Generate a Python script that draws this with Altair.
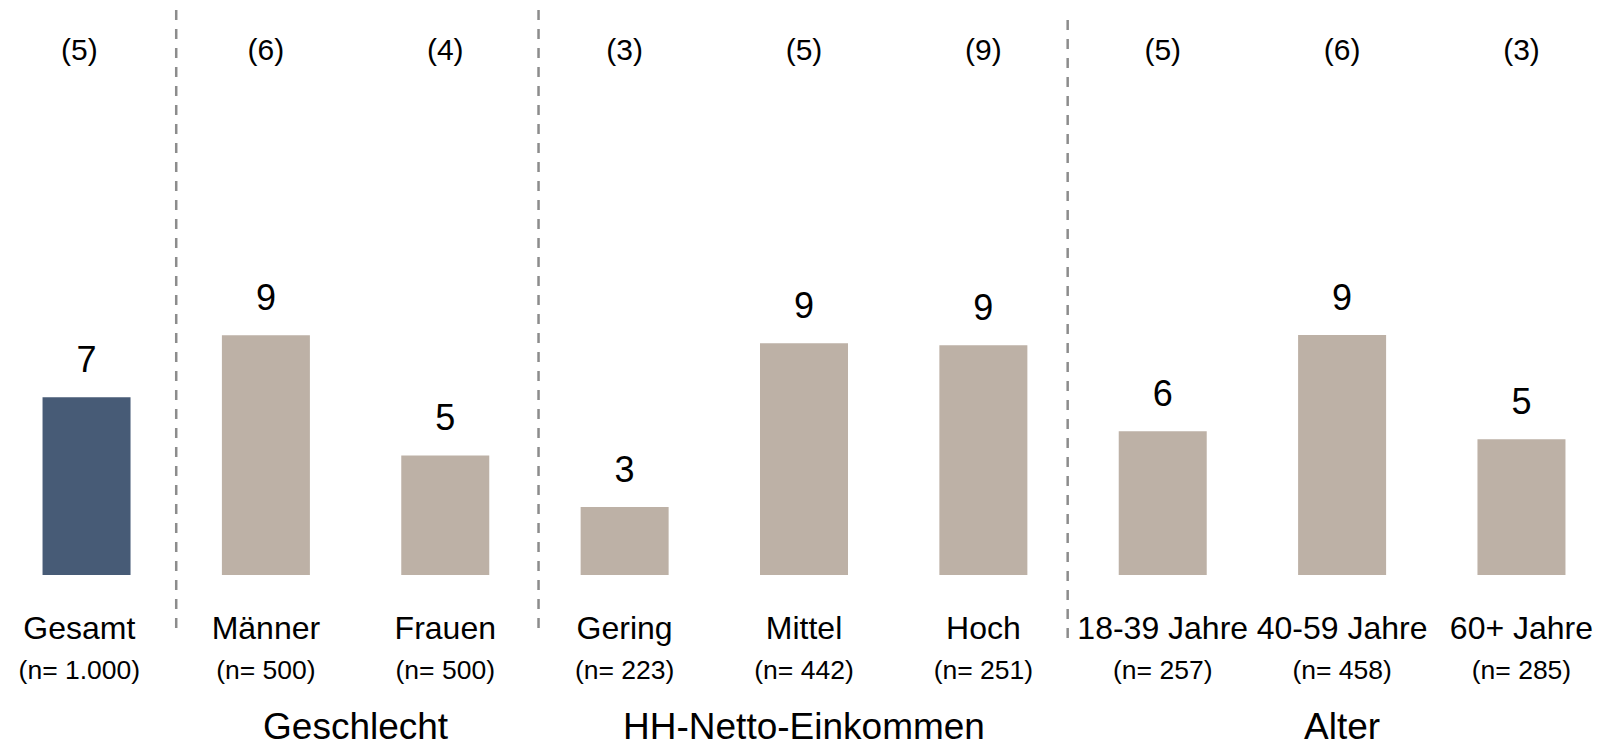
import altair as alt
import pandas as pd

# ---- data ----
categories = ["Gesamt", "Männer", "Frauen", "Gering", "Mittel", "Hoch",
              "18-39 Jahre", "40-59 Jahre", "60+ Jahre"]
values = [6.97, 9.40, 4.69, 2.67, 9.09, 9.01, 5.64, 9.41, 5.32]
value_labels = ["7", "9", "5", "3", "9", "9", "6", "9", "5"]
prev_labels = ["(5)", "(6)", "(4)", "(3)", "(5)", "(9)", "(5)", "(6)", "(3)"]
n_labels = ["(n= 1.000)", "(n= 500)", "(n= 500)", "(n= 223)", "(n= 442)",
            "(n= 251)", "(n= 257)", "(n= 458)", "(n= 285)"]
is_total = [True, False, False, False, False, False, False, False, False]

group_names = ["Geschlecht", "HH-Netto-Einkommen", "Alter"]
group_centers = [1.5, 4.0, 7.0]          # position in category-index units
separators_a = [0.5, 2.52]               # dashed separators (between groups)
separators_b = [5.47]

df = pd.DataFrame({
    "idx": list(range(len(categories))),
    "cat": categories,
    "value": values,
    "vlabel": value_labels,
    "prev": prev_labels,
    "n": n_labels,
    "total": ["Gesamt" if t else "Gruppe" for t in is_total],
})
gdf = pd.DataFrame({"pos": group_centers, "name": group_names})
sa = pd.DataFrame({"pos": separators_a})
sb = pd.DataFrame({"pos": separators_b})

W, H = 1592, 739
STEP = 180.5
X0 = -74 / STEP
xscale = alt.Scale(domain=[X0, X0 + W / STEP], nice=False, zero=False)
yscale = alt.Scale(domain=[-(H - 567) / 25.5, 567 / 25.5], nice=False, zero=False)
FONT = "Liberation Sans"

X = alt.X("idx:Q", scale=xscale, axis=None)
XL = alt.X("lx:Q", scale=xscale, axis=None)   # label position (total column nudged left)

base = alt.Chart(df).transform_calculate(
    lx="datum.total == 'Gesamt' ? datum.idx - 0.04 : datum.idx"
)

bars = base.mark_bar(size=88, orient="vertical").encode(
    x=X,
    y=alt.Y("value:Q", scale=yscale, axis=None),
    y2=alt.datum(0),
    color=alt.Color("total:N",
                    scale=alt.Scale(domain=["Gesamt", "Gruppe"],
                                    range=["#475b76", "#bdb1a6"]),
                    legend=None),
)

vals = base.mark_text(font=FONT, fontSize=36, dy=-25,
                      baseline="alphabetic", color="#000000").encode(
    x=X,
    y=alt.Y("value:Q", scale=yscale, axis=None),
    text="vlabel:N",
)

prev = base.mark_text(font=FONT, fontSize=30, baseline="alphabetic",
                      color="#000000").encode(
    x=XL, y=alt.value(51.5), text="prev:N")

cats = base.mark_text(font=FONT, fontSize=32, baseline="alphabetic",
                      color="#000000").encode(
    x=XL, y=alt.value(631), text="cat:N")

ns = base.mark_text(font=FONT, fontSize=26.5, baseline="alphabetic",
                    color="#000000").encode(
    x=XL, y=alt.value(671), text="n:N")

groups = alt.Chart(gdf).mark_text(font=FONT, fontSize=37, baseline="alphabetic",
                                  color="#000000").encode(
    x=alt.X("pos:Q", scale=xscale, axis=None),
    y=alt.value(731), text="name:N")

rules_a = alt.Chart(sa).mark_rule(strokeDash=[10, 9], strokeWidth=2.5,
                                  color="#8c8c8c").encode(
    x=alt.X("pos:Q", scale=xscale, axis=None),
    y=alt.value(2), y2=alt.value(629))

rules_b = alt.Chart(sb).mark_rule(strokeDash=[10, 9], strokeWidth=2.5,
                                  color="#8c8c8c").encode(
    x=alt.X("pos:Q", scale=xscale, axis=None),
    y=alt.value(12), y2=alt.value(637))

chart = alt.layer(rules_a, rules_b, bars, vals, prev, cats, ns, groups).properties(
    width=W, height=H, padding=0, autosize="none", background="#ffffff"
).configure_view(stroke=None)

chart.save("out.html", embed_options={"renderer": "svg", "actions": False})
